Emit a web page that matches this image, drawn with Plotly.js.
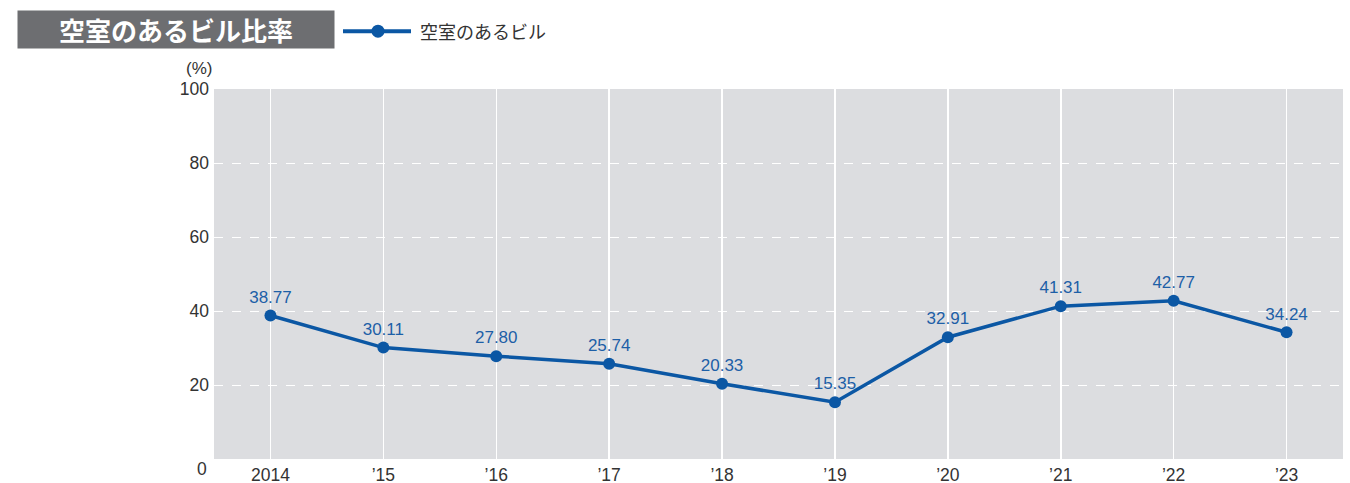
<!DOCTYPE html>
<html>
<head>
<meta charset="utf-8">
<script src="https://cdn.plot.ly/plotly-3.0.1.min.js"></script>
<style>
  html, body { margin: 0; padding: 0; background: #fff; }
  #chart { width: 1350px; height: 483px; }
</style>
</head>
<body>
<div id="chart"></div>
<script>
const years = ["2014", "’15", "’16", "’17", "’18", "’19", "’20", "’21", "’22", "’23"];
const vacancyRate = [38.77, 30.11, 27.80, 25.74, 20.33, 15.35, 32.91, 41.31, 42.77, 34.24];
const yTicks = [20, 40, 60, 80, 100];
const seriesName = "空室のあるビル";
const chartTitle = "空室のあるビル比率";

const blue = "#0b57a4";
const jpFont = "'Noto Sans CJK JP', 'Noto Sans', sans-serif";
const numFont = "'Liberation Sans', Arial, sans-serif";

// plot area in pixels: left 214, right 1343, top 88.5, bottom 459.5
const W = 1129, H = 371;
const px = x => (x - 214) / W;
const py = y => (459.5 - y) / H;

const trace = {
  x: years,
  y: vacancyRate,
  type: "scatter",
  mode: "lines+markers+text",
  name: seriesName,
  line: {color: blue, width: 3.5},
  marker: {color: blue, size: 12},
  text: vacancyRate.map(v => v.toFixed(2)),
  textposition: "top center",
  textfont: {family: numFont, size: 17, color: "#1d5fa7"},
  cliponaxis: false,
  showlegend: false
};

// hand-drawn legend (longer line than plotly's own)
const legendY = py(30.5);
const shapes = [
  {type: "line", xref: "paper", yref: "paper",
   x0: px(343), x1: px(411), y0: legendY, y1: legendY,
   line: {color: blue, width: 4}},
  {type: "circle", xref: "paper", yref: "paper",
   x0: px(371.5), x1: px(384.5), y0: py(37), y1: py(24),
   fillcolor: blue, line: {color: blue, width: 0}}
];

const layout = {
  width: 1350,
  height: 483,
  margin: {l: 214, r: 7, t: 88.5, b: 23.5},
  paper_bgcolor: "#ffffff",
  plot_bgcolor: "#dcdde0",
  font: {family: numFont, size: 17.5, color: "#333"},
  showlegend: false,
  xaxis: {
    type: "category",
    range: [-0.5, 9.5],
    showgrid: true,
    gridcolor: "#ffffff",
    gridwidth: 1.5,
    zeroline: false,
    showline: false,
    ticks: "",
    tickfont: {family: numFont, size: 17.5, color: "#333"},
    ticklabelstandoff: 3
  },
  yaxis: {
    range: [0, 100],
    tickvals: yTicks,
    ticktext: yTicks.map(String),
    showgrid: true,
    gridcolor: "#ffffff",
    griddash: "dash",
    gridwidth: 1,
    zeroline: false,
    showline: false,
    ticks: "",
    tickfont: {family: numFont, size: 17.5, color: "#333"},
    ticklabelstandoff: 4
  },
  shapes: shapes,
  annotations: [
    {
      xref: "paper", yref: "paper",
      x: px(17), y: py(9.5), xanchor: "left", yanchor: "top",
      width: 316, height: 37, borderpad: 0,
      bgcolor: "#6d6e71",
      text: "<b>" + chartTitle + "</b>",
      showarrow: false,
      font: {family: jpFont, size: 26, color: "#ffffff"}
    },
    {
      xref: "paper", yref: "paper",
      x: px(418), y: py(30.5), xanchor: "left", yanchor: "middle",
      text: seriesName, showarrow: false,
      font: {family: jpFont, size: 18, color: "#333"}
    },
    {
      xref: "paper", yref: "paper",
      x: px(213), y: py(78), xanchor: "right", yanchor: "bottom",
      borderpad: 0,
      text: "(%)", showarrow: false,
      font: {family: numFont, size: 17, color: "#333"}
    },
    {
      xref: "paper", yref: "y",
      x: px(209), y: 0, xanchor: "right", yanchor: "middle",
      yshift: -10,
      text: "0", showarrow: false,
      font: {family: numFont, size: 17.5, color: "#333"}
    }
  ]
};

Plotly.newPlot("chart", [trace], layout, {staticPlot: true});
</script>
</body>
</html>
